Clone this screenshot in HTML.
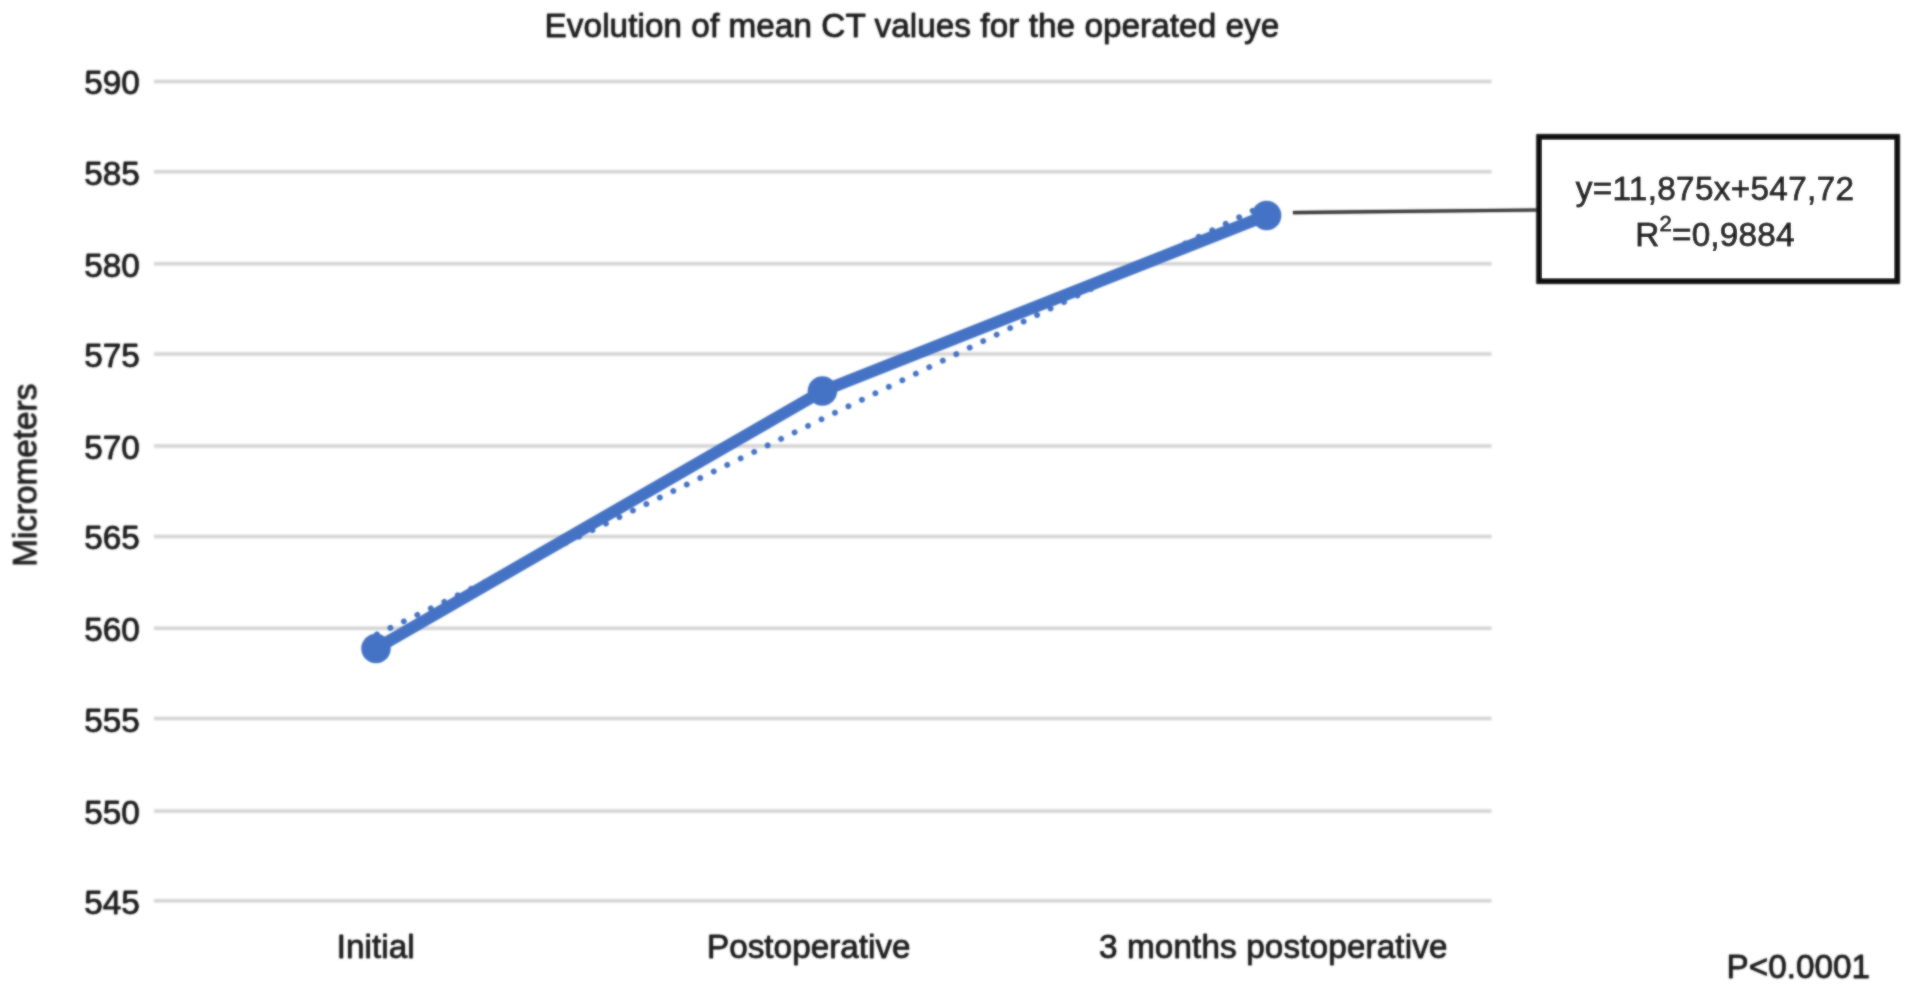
<!DOCTYPE html>
<html>
<head>
<meta charset="utf-8">
<title>Evolution of mean CT values for the operated eye</title>
<style>
  html, body { margin: 0; padding: 0; background: #ffffff; }
  body { width: 1913px; height: 987px; overflow: hidden; }
  svg { display: block; }
  text { font-family: "Liberation Sans", sans-serif; font-size: 33.3px; fill: #1c1c1c; stroke: #1c1c1c; stroke-width: 0.36px; stroke-linejoin: round; }
</style>
</head>
<body>
<svg width="1913" height="987" viewBox="0 0 1913 987">
  <rect x="0" y="0" width="1913" height="987" fill="#ffffff"/>

  <defs>
    <filter id="soft" x="-2%" y="-2%" width="104%" height="104%"><feGaussianBlur stdDeviation="0.85"/></filter>
    <g id="grid">
  <!-- gridlines -->
  <g stroke="#d3d3d3" stroke-width="3.5" stroke-linecap="butt">
    <line x1="154" x2="1491.6" y1="81.5" y2="81.5"/>
    <line x1="154" x2="1491.6" y1="171.8" y2="171.8"/>
    <line x1="154" x2="1491.6" y1="263.8" y2="263.8"/>
    <line x1="154" x2="1491.6" y1="354" y2="354"/>
    <line x1="154" x2="1491.6" y1="446" y2="446"/>
    <line x1="154" x2="1491.6" y1="536.6" y2="536.6"/>
    <line x1="154" x2="1491.6" y1="628.2" y2="628.2"/>
    <line x1="154" x2="1491.6" y1="718.6" y2="718.6"/>
    <line x1="154" x2="1491.6" y1="811" y2="811"/>
    <line x1="154" x2="1491.6" y1="900.8" y2="900.8"/>
  </g>

    </g>
    <g id="chart">
  <!-- title -->
  <text x="912" y="36.5" text-anchor="middle" letter-spacing="0.05">Evolution of mean CT values for the operated eye</text>

  <!-- y axis tick labels -->
  <g text-anchor="end">
    <text x="139.8" y="94.1">590</text>
    <text x="139.8" y="184.6">585</text>
    <text x="139.8" y="276.6">580</text>
    <text x="139.8" y="366.6">575</text>
    <text x="139.8" y="458.6">570</text>
    <text x="139.8" y="549.1">565</text>
    <text x="139.8" y="641.1">560</text>
    <text x="139.8" y="731.6">555</text>
    <text x="139.8" y="823.6">550</text>
    <text x="139.8" y="914.1">545</text>
  </g>

  <!-- y axis title -->
  <text transform="translate(36.3 475.3) rotate(-90)" text-anchor="middle">Micrometers</text>

  <!-- x axis labels -->
  <g text-anchor="middle">
    <text x="375.7" y="957.5">Initial</text>
    <text x="808.8" y="957.5">Postoperative</text>
    <text x="1273.3" y="957.5" letter-spacing="0.12">3 months postoperative</text>
  </g>

  <!-- trendline (dotted) -->
  <line x1="376.9" y1="634.4" x2="1267.6" y2="203.5" stroke="#4472c4" stroke-width="5.4" stroke-linecap="round" stroke-dasharray="0.01 14.957"/>

  <!-- data line -->
  <polyline points="376,648.5 822.4,391.1 1266.6,215.4" fill="none" stroke="#4472c4" stroke-width="11.4" stroke-linejoin="round" stroke-linecap="round"/>
  <g fill="#4472c4">
    <circle cx="376" cy="648.5" r="14.5"/>
    <circle cx="822.4" cy="391.1" r="14.5"/>
    <circle cx="1266.6" cy="215.4" r="14.5"/>
  </g>

  <!-- leader line -->
  <line x1="1293" y1="212.6" x2="1538" y2="210" stroke="#404040" stroke-width="3.2"/>

  <!-- equation box -->
  <rect x="1539.2" y="137" width="357.8" height="144" fill="#ffffff" stroke="#0e0e0e" stroke-width="5.5"/>
  <text x="1715" y="200" text-anchor="middle" letter-spacing="0.33" style="stroke-width:0.9px">y=11,875x+547,72</text>
  <text x="1715" y="245.8" text-anchor="middle" letter-spacing="0.2" style="stroke-width:0.9px">R<tspan font-size="22px" dy="-15">2</tspan><tspan dy="15">=0,9884</tspan></text>

  <!-- p value -->
  <text x="1798.3" y="977.8" text-anchor="middle">P&lt;0.0001</text>
    </g>
  </defs>
  <use href="#grid" filter="url(#soft)"/>
  <use href="#chart" filter="url(#soft)"/>
  <use href="#chart" opacity="0.5"/>
</svg>
</body>
</html>
